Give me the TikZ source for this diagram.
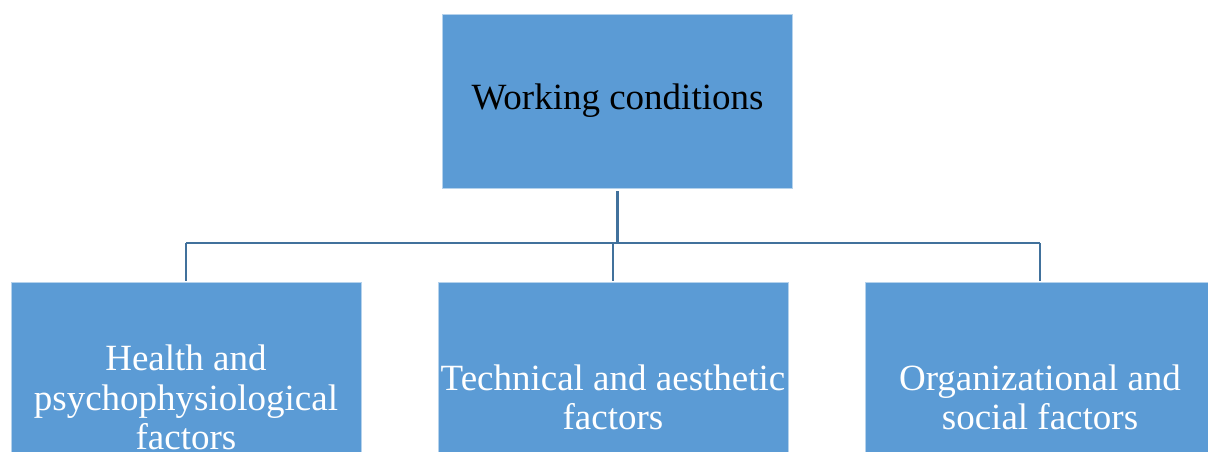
\documentclass[tikz,border=0pt]{standalone}
\usepackage{fontspec}
\setmainfont{Liberation Serif}
\definecolor{boxblue}{HTML}{5B9BD5}
\definecolor{linkblue}{HTML}{41719C}
\tikzset{
  box/.style={rectangle, fill=boxblue, draw=white!55!boxblue, line width=0.8pt,
    inner sep=0pt, align=center, minimum width=350pt,
    font=\fontsize{37}{39.5}\selectfont},
  topbox/.style={box, minimum height=174pt, text=black},
  subbox/.style={box, anchor=north, minimum height=230pt, text=white},
  link/.style={draw=linkblue, line width=2.8pt}
}
\begin{document}
\begin{tikzpicture}[x=1pt,y=-1pt]
  \useasboundingbox (0,0) rectangle (1208,451);
  \clip (0,0) rectangle (1208,451);
  \fill[white] (0,0) rectangle (1208,451);

  % boxes: the root and its three factor groups
  \coordinate (bus) at (617,243);
  \node[topbox] (top) at (617.5,101) {Working conditions};
  \node[subbox] (health) at (186,282) {Health and\\psychophysiological\\factors};
  \node[subbox] (tech) at (613,282) {Technical and aesthetic\\factors};
  \node[subbox] (org) at (1040,282) {Organizational and\\social factors};

  % tree connectors
  \draw[link] ([yshift=-3pt]top.south) -- (top.south |- bus);
  \draw[link] (health.north |- bus) -- (org.north |- bus);
  \draw[link] (health.north |- bus) -- ([yshift=1pt]health.north);
  \draw[link] (tech.north |- bus) -- ([yshift=1pt]tech.north);
  \draw[link] (org.north |- bus) -- ([yshift=1pt]org.north);
\end{tikzpicture}
\end{document}
